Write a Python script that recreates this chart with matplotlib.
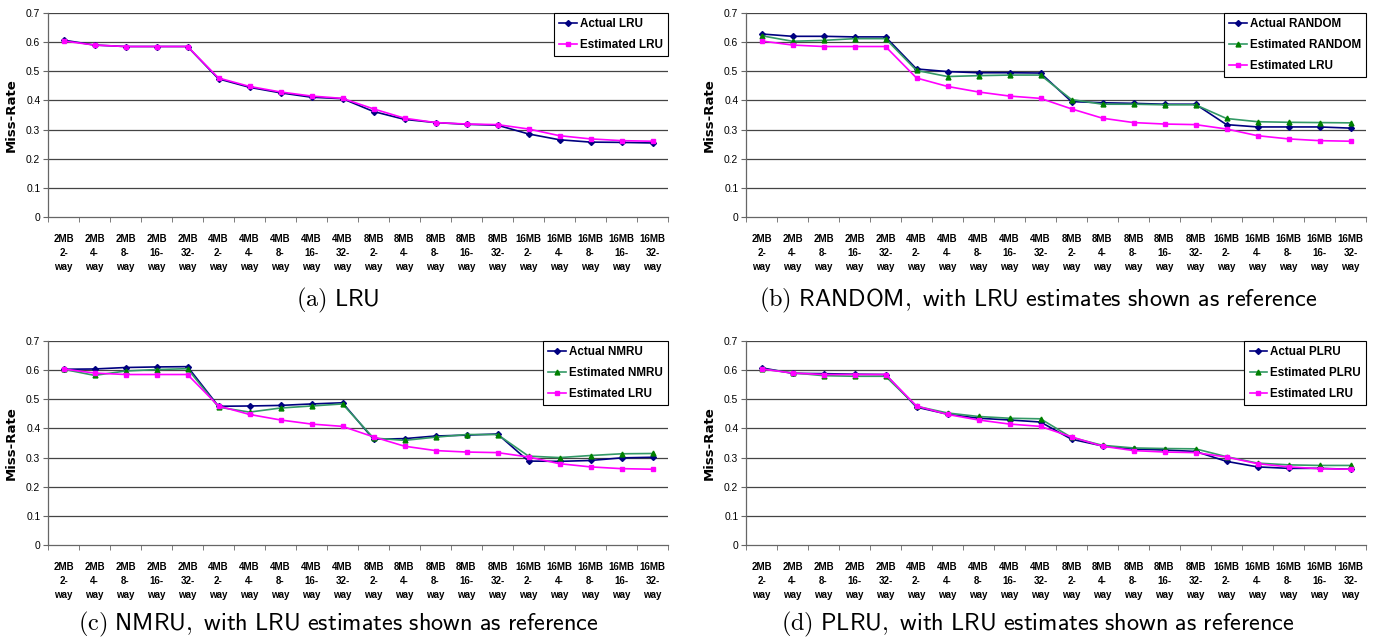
import numpy as np
import matplotlib
matplotlib.use('Agg')
import matplotlib.pyplot as plt
from matplotlib import font_manager

#Datos: tamaño de cache y asociatividad
tamanos = ['2MB']*5 + ['4MB']*5 + ['8MB']*5 + ['16MB']*5
vias = ['2', '4', '8', '16', '32'] * 4

#Miss-rate de cada politica
est_lru = [0.604, 0.590, 0.585, 0.585, 0.585, 0.477, 0.448, 0.429, 0.415, 0.407,
           0.371, 0.339, 0.324, 0.319, 0.317, 0.302, 0.279, 0.268, 0.262, 0.260]
act_lru = [0.607, 0.590, 0.585, 0.585, 0.585, 0.474, 0.445, 0.426, 0.411, 0.406,
           0.362, 0.335, 0.324, 0.318, 0.315, 0.285, 0.265, 0.257, 0.256, 0.254]
act_random = [0.628, 0.620, 0.620, 0.618, 0.618, 0.508, 0.499, 0.495, 0.495, 0.494,
              0.396, 0.392, 0.390, 0.387, 0.387, 0.317, 0.309, 0.309, 0.309, 0.305]
est_random = [0.622, 0.603, 0.606, 0.612, 0.612, 0.503, 0.482, 0.485, 0.487, 0.487,
              0.403, 0.387, 0.387, 0.385, 0.385, 0.338, 0.327, 0.325, 0.324, 0.323]
act_nmru = [0.603, 0.604, 0.609, 0.611, 0.612, 0.476, 0.477, 0.479, 0.484, 0.488,
            0.363, 0.365, 0.374, 0.377, 0.381, 0.288, 0.287, 0.290, 0.299, 0.301]
est_nmru = [0.603, 0.582, 0.597, 0.602, 0.605, 0.473, 0.456, 0.470, 0.477, 0.484,
            0.367, 0.359, 0.370, 0.379, 0.379, 0.305, 0.300, 0.307, 0.313, 0.314]
act_plru = [0.608, 0.589, 0.588, 0.586, 0.585, 0.473, 0.449, 0.435, 0.429, 0.422,
            0.363, 0.340, 0.329, 0.326, 0.321, 0.287, 0.268, 0.263, 0.263, 0.260]
est_plru = [0.604, 0.591, 0.581, 0.579, 0.579, 0.476, 0.453, 0.441, 0.435, 0.433,
            0.369, 0.342, 0.333, 0.331, 0.330, 0.303, 0.281, 0.275, 0.273, 0.273]

etiquetas = [t + '\n' + v + '-\nway' for t, v in zip(tamanos, vias)]
captions = [r'$\mathrm{(a)}\ \mathsf{LRU}$',
            r'$\mathrm{(b)}\ \mathsf{RANDOM,\ with\ LRU\ estimates\ shown\ as\ reference}$',
            r'$\mathrm{(c)}\ \mathsf{NMRU,\ with\ LRU\ estimates\ shown\ as\ reference}$',
            r'$\mathrm{(d)}\ \mathsf{PLRU,\ with\ LRU\ estimates\ shown\ as\ reference}$']

plt.rcParams['mathtext.fontset'] = 'cm'

#Fuente angosta si existe
nombres = set(f.name for f in font_manager.fontManager.ttflist)
if 'Liberation Sans Narrow' in nombres:
    angosta = 'Liberation Sans Narrow'
    f_tick, f_leg = 7.5, 10
else:
    angosta = 'Liberation Sans'
    f_tick, f_leg = 7.0, 8.4

navy = '#000080'
verde = '#339966'
verde_m = '#008000'
magenta = '#FF00FF'

fig = plt.figure(figsize=(13.81, 6.42), dpi=100)
W, H = 1381., 642.
# posiciones de los ejes en pixeles (izq, arriba)
pos = [(48, 13), (746, 13), (48, 341), (746, 341)]
x = np.arange(len(etiquetas))

def panel(k, series):
    l, t = pos[k]
    ax = fig.add_axes([l/W, 1 - (t+204)/H, 620/W, 204/H])
    for y, nombre, c, mc, m, ms in series:
        ax.plot(x, y, color=c, lw=1.2, marker=m, ms=ms, mfc=mc, mec=mc, label=nombre)
    ax.set_xlim(-0.5, 19.5)
    ax.set_ylim(0, 0.7)
    ax.set_yticks(np.arange(0, 0.71, 0.1))
    ax.set_yticklabels(['0', '0.1', '0.2', '0.3', '0.4', '0.5', '0.6', '0.7'],
                       fontsize=7.4, family='Liberation Sans')
    for g in np.arange(0.1, 0.71, 0.1):
        ax.axhline(g, color='#444444', lw=0.9, zorder=0)
    ax.set_xticks(x)
    ax.set_xticklabels(etiquetas, fontsize=f_tick, family=angosta, weight='bold',
                       linespacing=1.55)
    ax.set_xticks(np.arange(-0.5, 20, 1), minor=True)
    ax.tick_params(axis='x', which='major', length=0, pad=12)
    ax.tick_params(axis='x', which='minor', length=3.5, color='#666666', direction='out')
    ax.tick_params(axis='y', length=3.5, color='#666666', pad=2)
    for s in ['top', 'right']:
        ax.spines[s].set_visible(False)
    for s in ['left', 'bottom']:
        ax.spines[s].set_color('#666666')
        ax.spines[s].set_linewidth(0.9)
    ax.set_ylabel('Miss-Rate', fontsize=9.5, family='DejaVu Sans', weight='bold', labelpad=6)
    leg = ax.legend(loc='upper right', bbox_to_anchor=(1.0, 1.0), borderaxespad=0,
                    fancybox=False, framealpha=1, edgecolor='black',
                    prop={'family': angosta, 'weight': 'bold', 'size': f_leg},
                    handlelength=1.5, handletextpad=0.25, labelspacing=0.75,
                    borderpad=0.45)
    leg.get_frame().set_linewidth(0.8)
    return ax

lru_ref = (est_lru, 'Estimated LRU', magenta, magenta, 's', 3)

panel(0, [(act_lru, 'Actual LRU', navy, navy, 'D', 3), lru_ref])
panel(1, [(act_random, 'Actual RANDOM', navy, navy, 'D', 3),
          (est_random, 'Estimated RANDOM', verde, verde_m, '^', 3.5), lru_ref])
panel(2, [(act_nmru, 'Actual NMRU', navy, navy, 'D', 3),
          (est_nmru, 'Estimated NMRU', verde, verde_m, '^', 3.5), lru_ref])
panel(3, [(act_plru, 'Actual PLRU', navy, navy, 'D', 3),
          (est_plru, 'Estimated PLRU', verde, verde_m, '^', 3.5), lru_ref])

#Subtitulos de cada grafica
cx = [338, 1038, 338, 1038]
cy = [300, 300, 624, 624]
for c, px, py in zip(captions, cx, cy):
    fig.text(px/W, 1 - py/H, c, ha='center', va='center', fontsize=17.5)

plt.savefig('out.png', dpi=100)
